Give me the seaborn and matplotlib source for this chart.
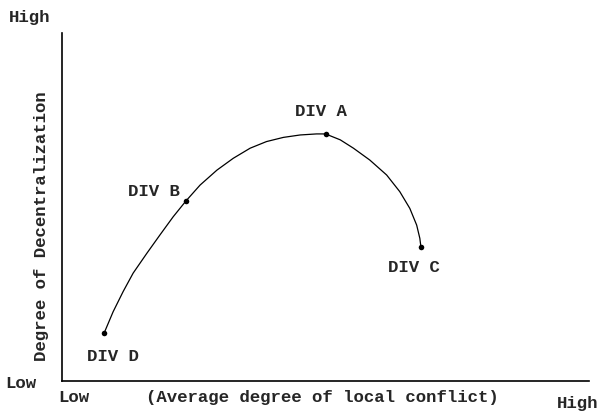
import matplotlib
matplotlib.use("Agg")
import matplotlib.pyplot as plt
import seaborn as sns
import pandas as pd

# Curve (unitless 0-10 scales)
curve_x = [0.80, 0.97, 1.16, 1.35, 1.61, 1.86, 2.11, 2.35, 2.62, 2.94, 3.25,
           3.57, 3.88, 4.20, 4.52, 4.83, 5.00, 5.28, 5.53, 5.84, 6.16, 6.41,
           6.60, 6.73, 6.79, 6.81]
curve_y = [1.38, 1.99, 2.57, 3.10, 3.67, 4.20, 4.72, 5.17, 5.63, 6.06, 6.40,
           6.69, 6.88, 7.00, 7.07, 7.10, 7.10, 6.93, 6.69, 6.35, 5.92, 5.44,
           4.96, 4.48, 4.10, 3.86]

# Divisions
div_names = ["DIV A", "DIV B", "DIV C", "DIV D"]
div_x = [5.00, 2.35, 6.81, 0.80]
div_y = [7.10, 5.17, 3.86, 1.38]

curve = pd.DataFrame({"x": curve_x, "y": curve_y})
divs = pd.DataFrame({"name": div_names, "x": div_x, "y": div_y})

sns.set_theme(style="white")
plt.rcParams["font.family"] = ["Liberation Mono", "DejaVu Sans Mono"]
plt.rcParams["font.weight"] = "bold"

W, H = 601, 415
fig = plt.figure(figsize=(W / 100, H / 100), dpi=100)
fig.patch.set_facecolor("white")
ax = fig.add_axes([62 / W, (H - 381) / H, (589 - 62) / W, (381 - 33) / H])

sns.lineplot(data=curve, x="x", y="y", sort=False, color="black", lw=0.9,
             ax=ax, estimator=None, solid_joinstyle="round")
sns.scatterplot(data=divs, x="x", y="y", color="black", s=16,
                edgecolor="black", linewidth=0, ax=ax, zorder=3)

offsets = {"DIV A": (-3, 16.5), "DIV B": (-23, 7), "DIV C": (-5, -15),
           "DIV D": (6, -17)}
for n, x, y in zip(div_names, div_x, div_y):
    ax.annotate(n, (x, y), xytext=offsets[n], textcoords="offset points",
                ha="center", va="center", fontsize=12.5, fontweight="bold")

ax.set_xlim(0, 10)
ax.set_ylim(0, 10)
ax.set_xticks([])
ax.set_yticks([])
ax.set_xlabel("")
ax.set_ylabel("")
for s in ["top", "right"]:
    ax.spines[s].set_visible(False)
for s in ["left", "bottom"]:
    ax.spines[s].set_color("black")
    ax.spines[s].set_linewidth(1.2)
ax.set_facecolor("white")

fs = 12.5
fig.text(30 / W, 1 - 17.5 / H, "High", ha="center", va="center", fontsize=fs, fontweight="bold")
fig.text(21 / W, 1 - 383 / H, "Low", ha="center", va="center", fontsize=fs, fontweight="bold")
fig.text(73.5 / W, 1 - 397.5 / H, "Low", ha="center", va="center", fontsize=fs, fontweight="bold")
fig.text(322 / W, 1 - 397 / H, "(Average degree of local conflict)", ha="center",
         va="center", fontsize=fs, fontweight="bold")
fig.text(577.5 / W, 1 - 403 / H, "High", ha="center", va="center", fontsize=fs, fontweight="bold")
fig.text(42 / W, 1 - 226 / H, "Degree of Decentralization", ha="center", va="center",
         rotation=90, fontsize=fs, fontweight="bold")

fig.savefig("out.png", dpi=100, facecolor="white")
